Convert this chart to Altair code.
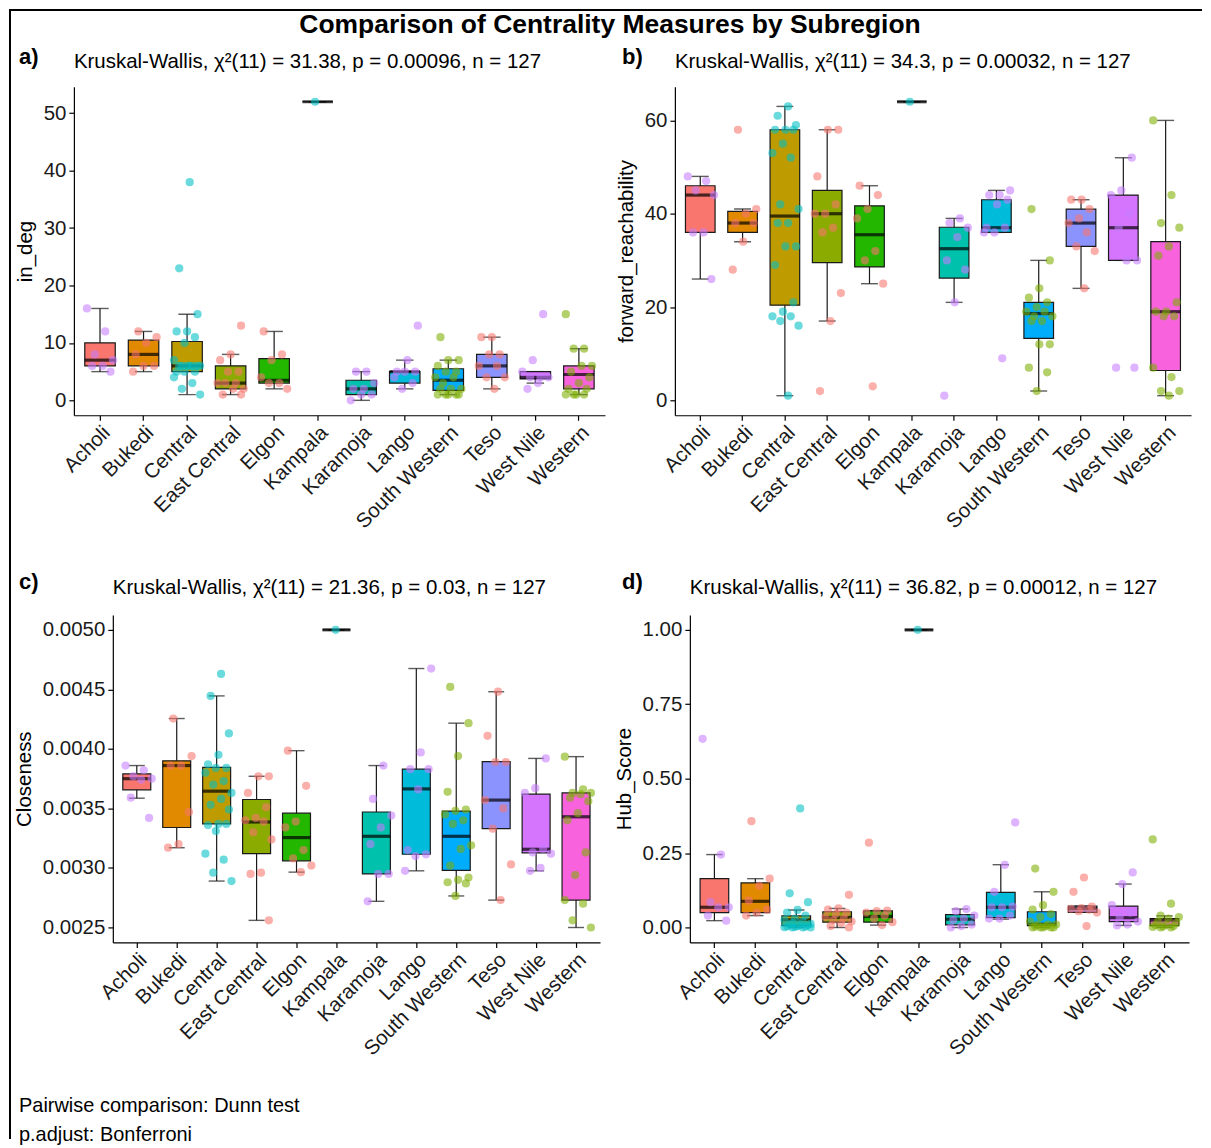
import altair as alt
import pandas as pd

FONT = "Liberation Sans"

REGIONS = ["Acholi", "Bukedi", "Central", "East Central", "Elgon", "Kampala",
           "Karamoja", "Lango", "South Western", "Teso", "West Nile", "Western"]
BOX_COLORS = ["#F8766D", "#E18A00", "#BE9C00", "#8CAB00", "#24B700", "#00BE70",
              "#00C1AB", "#00BBDA", "#00ACFC", "#8B93FF", "#D575FE", "#F962DD"]
POINT_GROUP = ["Northern", "Eastern", "Central", "Eastern", "Eastern", "Central",
               "Northern", "Northern", "Western", "Eastern", "Northern", "Western"]
GROUPS = ["Central", "Eastern", "Northern", "Western"]
GROUP_COLORS = ["#00BFC4", "#F8766D", "#C77CFF", "#7CAE00"]

# ---- a) in_deg
A_LOW = [5, 5, 1, 1, 2, 52, 0, 2, 1, 2, 3, 1]
A_Q1 = [6, 6, 5, 2, 3, 52, 1, 3, 1.75, 4, 3.75, 2]
A_MED = [7, 8, 6, 3, 3.5, 52, 2, 5, 3.5, 6, 4, 4.5]
A_Q3 = [10, 10.5, 10.25, 6, 7.25, 52, 3.5, 5, 5.5, 8, 5, 6]
A_HIGH = [16, 12, 15, 8, 12, 52, 5, 7, 7, 11, 5, 9]
A_POINTS = [
    [16, 12, 8, 7, 6, 6, 5],
    [12, 11, 10, 8, 6, 6, 5],
    [38, 23, 15, 12, 12, 11, 10, 7, 6, 6, 6, 6, 6, 6, 6, 5, 5, 5, 4, 3, 2, 1],
    [13, 8, 7, 5, 5, 3, 3, 3, 2, 2, 1, 1],
    [12, 8, 7, 4, 3, 3, 2],
    [52],
    [5, 5, 3, 2, 2, 1, 1, 0],
    [13, 7, 5, 5, 5, 4, 3, 2],
    [11, 7, 7, 6, 5, 5, 4, 4, 3, 2, 2, 2, 1, 1, 1, 1, 1],
    [11, 11, 8, 8, 6, 6, 4, 4, 2],
    [15, 7, 5, 4, 4, 4, 3, 2],
    [15, 9, 9, 6, 6, 5, 4, 3, 2, 2, 1, 1, 1, 1],
]

# ---- b) forward_reachability
B_LOW = [26, 34, 1, 17, 25, 64, 21, 36, 2, 24, 30, 1]
B_Q1 = [36, 36, 20.4, 29.5, 28.6, 64, 26.2, 36, 13.3, 33, 30, 6.4]
B_MED = [44, 38, 39.5, 40, 35.5, 64, 32.5, 37, 18.6, 38, 37, 19]
B_Q3 = [46, 40.5, 58, 45, 41.7, 64, 37.1, 43, 21, 41, 44, 34]
B_HIGH = [48, 41, 63, 58, 46, 64, 39, 45, 30, 43, 52, 60]
B_POINTS = [
    [48, 47, 45, 44, 36, 36, 26],
    [58, 41, 40, 38, 38, 34, 28],
    [63, 61, 59, 58, 58, 58, 55, 53, 52, 42, 41, 38, 38, 33, 33, 29, 21, 19, 18, 18, 17, 16, 1],
    [58, 58, 48, 42, 40, 40, 37, 36, 23, 17, 2],
    [46, 44, 41, 39, 32, 30, 25, 3],
    [64],
    [39, 38, 37, 35, 30, 28, 21, 1],
    [45, 44, 44, 43, 42, 37, 37, 36, 36, 9],
    [41, 30, 24, 22, 21, 20, 19, 19, 18, 18, 17, 17, 12, 12, 7, 6, 2],
    [43, 43, 41, 39, 38, 36, 33, 32, 24],
    [52, 45, 44, 40, 37, 30, 30, 7, 7],
    [60, 44, 38, 37, 33, 31, 21, 19, 19, 18, 18, 7, 5, 2, 2, 1],
]

# ---- c) Closeness
C_LOW = [0.003586, 0.00317, 0.00289, 0.00256, 0.002965, 0.0050, 0.00272, 0.002976, 0.002765, 0.00273, 0.002976, 0.00250]
C_Q1 = [0.003656, 0.00334, 0.00337, 0.00312, 0.00306, 0.0050, 0.00295, 0.003115, 0.00298, 0.00333, 0.003127, 0.00273]
C_MED = [0.00375, 0.00386, 0.003645, 0.003386, 0.003255, 0.0050, 0.003266, 0.003664, 0.003266, 0.00357, 0.003157, 0.00343]
C_Q3 = [0.00379, 0.00390, 0.003845, 0.003575, 0.00346, 0.0050, 0.00347, 0.00383, 0.003478, 0.003893, 0.00362, 0.00363]
C_HIGH = [0.00386, 0.004255, 0.004445, 0.00377, 0.003985, 0.0050, 0.00386, 0.004675, 0.004216, 0.00448, 0.00392, 0.003935]
C_POINTS = [
    [0.00386, 0.00382, 0.00377, 0.00375, 0.00374, 0.00359, 0.00342],
    [0.004255, 0.00394, 0.00386, 0.00386, 0.00347, 0.00320, 0.00317],
    [0.00463, 0.004445, 0.00413, 0.00395, 0.00387, 0.00384, 0.00384, 0.00380, 0.00373, 0.00370,
     0.00363, 0.00358, 0.00353, 0.00349, 0.00337, 0.00336, 0.00337, 0.00331, 0.00312, 0.00307, 0.00296, 0.00289],
    [0.00377, 0.00377, 0.00363, 0.00351, 0.00342, 0.00340, 0.00339, 0.00330, 0.00324, 0.00296, 0.00295, 0.00256],
    [0.003985, 0.00369, 0.00339, 0.00334, 0.00315, 0.00308, 0.00302, 0.002965],
    [0.0050],
    [0.00386, 0.00358, 0.00344, 0.00334, 0.00320, 0.00295, 0.00295, 0.00272],
    [0.004675, 0.00397, 0.00383, 0.00383, 0.00366, 0.00315, 0.003115, 0.00310, 0.002976],
    [0.00452, 0.004216, 0.00394, 0.00364, 0.00349, 0.00348, 0.00345, 0.00340, 0.00337, 0.00319,
     0.00316, 0.00302, 0.00292, 0.00290, 0.00288, 0.00287, 0.002765],
    [0.00448, 0.00411, 0.00389, 0.00389, 0.00357, 0.00350, 0.00333, 0.00303, 0.00273],
    [0.00392, 0.00367, 0.00363, 0.00316, 0.00313, 0.00312, 0.00300, 0.002976],
    [0.003935, 0.00366, 0.00363, 0.00363, 0.00362, 0.00359, 0.00356, 0.00346, 0.00340, 0.00313,
     0.00294, 0.00273, 0.00270, 0.00256, 0.00250],
]

# ---- d) Hub_Score
D_LOW = [0.023, 0.04, 0.0, 0.0, 0.008, 1.0, 0.0, 0.028, 0.0, 0.051, 0.007, 0.0]
D_Q1 = [0.05, 0.05, 0.006, 0.018, 0.018, 1.0, 0.009, 0.033, 0.006, 0.051, 0.02, 0.006]
D_MED = [0.068, 0.088, 0.026, 0.034, 0.037, 1.0, 0.028, 0.068, 0.011, 0.064, 0.033, 0.025]
D_Q3 = [0.164, 0.15, 0.039, 0.053, 0.056, 1.0, 0.043, 0.118, 0.053, 0.072, 0.072, 0.03]
D_HIGH = [0.245, 0.164, 0.059, 0.064, 0.057, 1.0, 0.062, 0.211, 0.12, 0.072, 0.146, 0.039]
D_POINTS = [
    [0.634, 0.245, 0.085, 0.068, 0.068, 0.04, 0.023],
    [0.357, 0.164, 0.14, 0.09, 0.06, 0.05, 0.04],
    [0.40, 0.115, 0.085, 0.059, 0.05, 0.04, 0.03, 0.025, 0.02, 0.015, 0.012, 0.01, 0.01,
     0.008, 0.005, 0.004, 0.003, 0.002, 0.001, 0.0, 0.0, 0.0],
    [0.11, 0.064, 0.06, 0.05, 0.045, 0.035, 0.03, 0.025, 0.02, 0.015, 0.005, 0.0],
    [0.285, 0.057, 0.055, 0.05, 0.04, 0.03, 0.018, 0.008],
    [1.0],
    [0.062, 0.055, 0.04, 0.03, 0.025, 0.01, 0.005, 0.0],
    [0.353, 0.21, 0.12, 0.07, 0.068, 0.068, 0.04, 0.03, 0.03],
    [0.198, 0.12, 0.075, 0.06, 0.045, 0.035, 0.02, 0.01, 0.01, 0.01, 0.005, 0.003, 0.0, 0.0, 0.0, 0.0, 0.0],
    [0.168, 0.12, 0.07, 0.065, 0.063, 0.06, 0.055, 0.05, 0.005],
    [0.185, 0.146, 0.075, 0.05, 0.035, 0.02, 0.01, 0.007],
    [0.296, 0.08, 0.04, 0.035, 0.03, 0.02, 0.015, 0.01, 0.008, 0.005, 0.003, 0.002, 0.0, 0.0],
]

TITLE = "Comparison of Centrality Measures by Subregion"
SUBTITLES = [
    "Kruskal-Wallis, \u03c7\u00b2(11) = 31.38, p = 0.00096, n = 127",
    "Kruskal-Wallis, \u03c7\u00b2(11) = 34.3, p = 0.00032, n = 127",
    "Kruskal-Wallis, \u03c7\u00b2(11) = 21.36, p = 0.03, n = 127",
    "Kruskal-Wallis, \u03c7\u00b2(11) = 36.82, p = 0.00012, n = 127",
]
FOOTNOTES = ["Pairwise comparison: Dunn test", "p.adjust: Bonferroni"]

TXT = 20.5


def text_layer(t, x, y, size=TXT, bold=False, align="left"):
    return alt.Chart(pd.DataFrame({"t": [t]})).mark_text(
        align=align, baseline="middle", fontSize=size, font=FONT, color="black",
        fontWeight="bold" if bold else "normal").encode(
        x=alt.value(x), y=alt.value(y), text="t:N")


def rule_layer(x, y, x2=None, y2=None, width=2):
    enc = {"x": alt.value(x), "y": alt.value(y)}
    if x2 is not None:
        enc["x2"] = alt.value(x2)
    if y2 is not None:
        enc["y2"] = alt.value(y2)
    return alt.Chart(pd.DataFrame({"t": [0]})).mark_rule(color="black", strokeWidth=width).encode(**enc)


def make_panel(label, subtitle, ytitle, low, q1, med, q3, high, pts, ydom, yticks, yfmt,
               plot_w, height, x0, label_dx, sub_dy, lab_dy, extra=None):
    # x0: left edge of the plotting area inside the view (axis is moved there)
    width = x0 + plot_w
    step = plot_w / 12.2
    box_df = pd.DataFrame({"region": REGIONS, "low": low, "q1": q1, "med": med,
                           "q3": q3, "high": high, "fill": BOX_COLORS})
    rows = []
    for i, r in enumerate(REGIONS):
        col = GROUP_COLORS[GROUPS.index(POINT_GROUP[i])]
        for k, v in enumerate(pts[i]):
            jit = ((k * 7 + i * 3) % 11) / 5.0 - 1.0
            rows.append({"region": r, "value": v, "jit": jit, "col": col})
    pt_df = pd.DataFrame(rows)

    xenc = alt.X("region:N", sort=REGIONS,
                 scale=alt.Scale(domain=REGIONS, paddingInner=0, paddingOuter=0.1, range=[x0, width]),
                 axis=alt.Axis(title=None, labelAngle=-45, labelAlign="right",
                               labelBaseline="top", labelPadding=2))
    yscale = alt.Scale(domain=ydom, nice=False, zero=False)
    yaxis = alt.Axis(title=ytitle, values=yticks, format=yfmt, titlePadding=8, labelPadding=3,
                     offset=-x0)

    def Y(f):
        return alt.Y(f, scale=yscale, axis=yaxis)

    box_w = 0.7 * step
    base = alt.Chart(box_df)
    whisk = base.mark_rule(color="#1a1a1a", strokeWidth=1.2).encode(x=xenc, y=Y("low:Q"), y2="high:Q")
    cap_lo = base.mark_tick(color="#1a1a1a", thickness=1.4, size=0.4 * step).encode(x=xenc, y=Y("low:Q"))
    cap_hi = base.mark_tick(color="#1a1a1a", thickness=1.4, size=0.4 * step).encode(x=xenc, y=Y("high:Q"))
    box = base.mark_bar(width=box_w, stroke="#1a1a1a", strokeWidth=1.2).encode(
        x=xenc, y=Y("q1:Q"), y2="q3:Q", fill=alt.Fill("fill:N", scale=None))
    medl = base.mark_tick(color="black", thickness=3.2, size=box_w).encode(x=xenc, y=Y("med:Q"))
    points = alt.Chart(pt_df).mark_circle(size=68, opacity=0.58).encode(
        x=xenc,
        xOffset=alt.XOffset("jit:Q", scale=alt.Scale(domain=[-1, 1], range=[0.2 * step, 0.8 * step])),
        y=Y("value:Q"),
        color=alt.Color("col:N", scale=None))

    layers = [whisk, cap_lo, cap_hi, box, medl, points,
              text_layer(subtitle, x0, sub_dy),
              text_layer(label, label_dx, lab_dy, size=22, bold=True)]
    if extra:
        layers += extra
    return alt.layer(*layers).properties(width=width, height=height)


# frame, main title (panel a) and footnotes (panel c) -- positions relative to the panel's view
extra_a = [
    rule_layer(-64, -77, y2=1054),
    rule_layer(-65, -77, x2=1130),
    text_layer(TITLE, 537, -62, size=26.5, bold=True, align="center"),
]
extra_c = [text_layer(FOOTNOTES[0], -55, 492, size=20), text_layer(FOOTNOTES[1], -55, 521, size=20)]

pa = make_panel("a)", SUBTITLES[0], "in_deg", A_LOW, A_Q1, A_MED, A_Q3, A_HIGH, A_POINTS,
                [-2.6, 54.6], [0, 10, 20, 30, 40, 50], "d", 532, 329, 0, -55, -25, -30, extra_a)
pb = make_panel("b)", SUBTITLES[1], "forward_reachability", B_LOW, B_Q1, B_MED, B_Q3, B_HIGH, B_POINTS,
                [-3.2, 67.2], [0, 20, 40, 60], "d", 517, 329, 0, -53, -25, -30)
pc = make_panel("c)", SUBTITLES[2], "Closeness", C_LOW, C_Q1, C_MED, C_Q3, C_HIGH, C_POINTS,
                [0.002375, 0.005125], [0.0025, 0.0030, 0.0035, 0.0040, 0.0045, 0.0050], ".4f",
                488, 328, 39, -55, -27, -33, extra_c)
pd_ = make_panel("d)", SUBTITLES[3], "Hub_Score", D_LOW, D_Q1, D_MED, D_Q3, D_HIGH, D_POINTS,
                 [-0.05, 1.05], [0, 0.25, 0.5, 0.75, 1.0], ".2f", 500, 328, 15, -53, -27, -33)

chart = alt.concat(pa, pb, pc, pd_, columns=2, bounds="flush",
                   spacing=alt.RowColnumber(row=200, column=70)).properties(
    padding=0, background="white"
).configure_view(stroke=None).configure_axis(
    domainColor="black", domainWidth=1.2, tickColor="black", tickWidth=1.2, tickSize=5,
    labelFont=FONT, labelFontSize=20.5, labelColor="#1a1a1a", titleFont=FONT, titleFontSize=20.5,
    titleFontWeight="normal", titleColor="black", grid=False
)

chart.save("out.html", embed_options={"renderer": "svg", "actions": False})
